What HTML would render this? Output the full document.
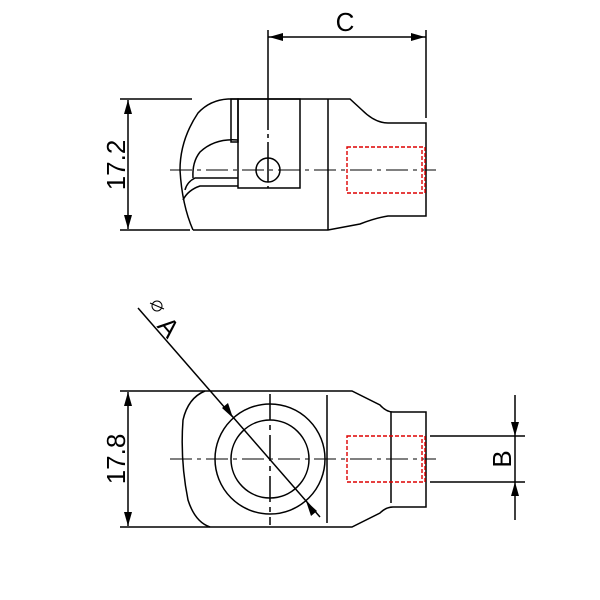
<!DOCTYPE html>
<html><head><style>body{margin:0;background:#fff}svg{display:block}</style></head><body>
<svg width="600" height="600" viewBox="0 0 600 600" xmlns="http://www.w3.org/2000/svg" font-family="Liberation Sans, sans-serif">
<g fill="none" stroke="#000" stroke-width="1.5">
<!-- TOP VIEW -->
<line x1="120" y1="99" x2="192" y2="99"/>
<line x1="120" y1="230" x2="190" y2="230"/>
<line x1="128" y1="100" x2="128" y2="229"/>
<path d="M228 99 L350 99 L362 110 Q375 123 388 123 L426 123 L426 216 L388 216 Q375 218 360 224 L328 230 L193 230"/>
<line x1="426" y1="30" x2="426" y2="118"/>
<line x1="268" y1="30" x2="268" y2="90"/>
<line x1="268" y1="37" x2="426" y2="37"/>
<path d="M228 99 Q210 100 198 113 Q180 140 180 170 Q182 205 193 230"/>
<rect x="231" y="99" width="7" height="43"/>
<rect x="238" y="99" width="62" height="89"/>
<line x1="328" y1="99" x2="328" y2="230"/>
<path d="M238 140 Q215 138 200 152 Q192 162 193 178"/>
<path d="M238 178 L195 178 Q187 182 185 190"/>
<path d="M238 186 L200 186 Q188 190 183 200"/>
<circle cx="268" cy="170" r="12"/>
<line x1="268" y1="90" x2="268" y2="188" stroke-dasharray="40 4 4 4"/>
<line x1="170" y1="170" x2="436" y2="170" stroke-width="1.1" stroke-dasharray="22 5 4 5"/>
<!-- BOTTOM VIEW -->
<line x1="120" y1="391" x2="205" y2="391"/>
<line x1="120" y1="527" x2="210" y2="527"/>
<line x1="128" y1="392" x2="128" y2="526"/>
<path d="M205 391 L352 391 L380 405 Q386 412 393 412 L426 412 L426 507 L393 507 Q386 507 380 513 L352 527 L210 527"/>
<path d="M205 391 Q188 398 183 420 Q180 460 188 500 Q195 522 210 527"/>
<circle cx="270" cy="459" r="55"/>
<circle cx="270" cy="459" r="39"/>
<line x1="327" y1="395" x2="327" y2="523"/>
<line x1="391" y1="412" x2="391" y2="503"/>
<line x1="270" y1="394" x2="270" y2="525" stroke-dasharray="26 5 5 5"/>
<line x1="170" y1="459" x2="436" y2="459" stroke-width="1.1" stroke-dasharray="22 5 4 5"/>
<line x1="430" y1="436" x2="525" y2="436"/>
<line x1="430" y1="482" x2="525" y2="482"/>
<line x1="515" y1="395" x2="515" y2="520"/>
<line x1="138" y1="308" x2="320" y2="517"/>
</g>
<!-- red threaded holes -->
<g fill="none" stroke="#d00" stroke-width="1.4" stroke-dasharray="4 2">
<rect x="347" y="147" width="78" height="46"/>
<line x1="422" y1="150" x2="422" y2="190"/>
<rect x="347" y="436" width="78" height="46"/>
<line x1="422" y1="439" x2="422" y2="479"/>
</g>
<!-- arrows -->
<g fill="#000">
<polygon points="128,100 124,114 132,114"/>
<polygon points="128,229 124,215 132,215"/>
<polygon points="269,37 283,33 283,41"/>
<polygon points="425,37 411,33 411,41"/>
<polygon points="128,392 124,406 132,406"/>
<polygon points="128,526 124,512 132,512"/>
<polygon points="515,436 511,422 519,422"/>
<polygon points="515,482 511,496 519,496"/>
<polygon points="233,418 222,408 228,403"/>
<polygon points="306,501 317,511 311,516"/>
</g>
<g font-size="26" fill="#000">
<text x="345" y="31" text-anchor="middle">C</text>
<text transform="translate(125,165) rotate(-90)" text-anchor="middle">17.2</text>
<text transform="translate(125,459) rotate(-90)" text-anchor="middle">17.8</text>
<text transform="translate(511,459) rotate(-90)" text-anchor="middle">B</text>
<text transform="translate(162,333) rotate(49)" text-anchor="middle">A</text>
</g>
<g fill="none" stroke="#000" stroke-width="1"><circle cx="157" cy="306" r="5"/><line x1="150" y1="303" x2="164" y2="309"/></g>
</svg>
</body></html>
